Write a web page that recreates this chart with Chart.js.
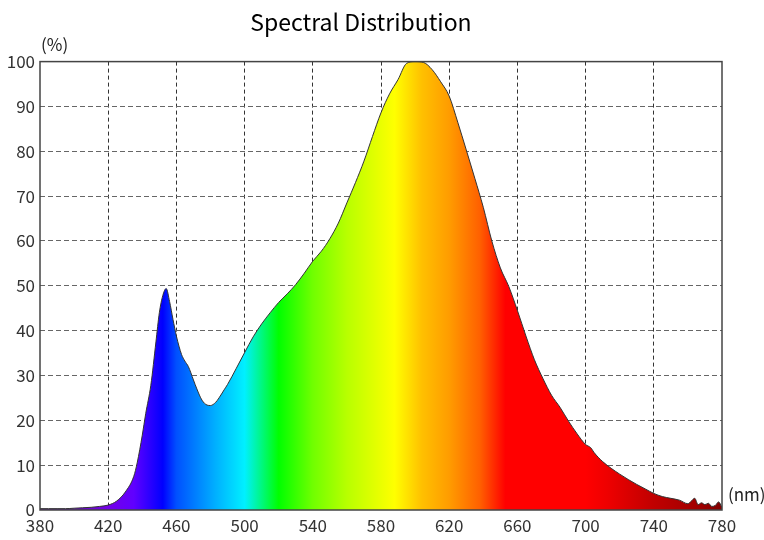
<!DOCTYPE html>
<html lang="en">
<head>
  <meta charset="UTF-8">
  <title>Spectral Distribution</title>
  <script src="https://cdn.jsdelivr.net/npm/chart.js"></script>
  <style>
    body { margin: 0; background: #fff; }
    #wrap { width: 764px; height: 540px; }
  </style>
</head>
<body>
  <div id="wrap"><canvas id="spectrum"></canvas></div>
  <script>
    // wavelength (nm) and relative intensity (%)
    const wavelengths = [380, 385, 390, 395, 400, 405, 410, 415, 420, 425, 430, 435, 437, 440, 442, 445, 448, 450, 452, 454, 456, 458,
      460, 463, 465, 467, 470, 472, 475, 478, 480, 483, 485, 488, 490, 495, 500, 505, 510, 515, 520, 525,
      530, 535, 540, 545, 550, 555, 560, 565, 570, 575, 580, 585, 590, 595, 600, 605, 610, 615, 620, 625,
      630, 635, 640, 645, 650, 655, 660, 665, 670, 675, 680, 685, 690, 695, 700, 703, 705, 710, 715, 720,
      725, 730, 735, 740, 745, 750, 755, 760, 762, 764, 766, 768, 770, 772, 774, 776, 778, 780];
    const intensity = [0.3, 0.3, 0.3, 0.3, 0.4, 0.5, 0.6, 0.8, 1.1, 2.0, 4.0, 7.5, 10.5, 16.7, 21.5, 27.8, 37.5, 44.0, 47.8, 49.4, 46.5, 42.5,
      38.8, 34.7, 33.2, 32.0, 29.0, 27.0, 24.5, 23.4, 23.3, 24.0, 25.0, 26.8, 28.0, 31.5, 35.1, 38.6, 41.5, 44.0, 46.3, 48.2,
      50.3, 52.8, 55.5, 57.7, 60.5, 64.0, 68.5, 73.0, 77.8, 83.3, 88.6, 92.8, 96.0, 99.6, 100, 99.8, 98.2, 95.5, 92.3, 86.5,
      80.3, 74.0, 67.5, 60.0, 54.0, 49.8, 44.5, 38.8, 33.5, 29.3, 25.6, 22.9, 19.8, 17.0, 14.6, 13.9, 12.8, 10.8, 9.3, 8.0,
      6.8, 5.7, 4.7, 3.7, 3.0, 2.6, 2.2, 1.4, 2.0, 2.6, 1.2, 1.6, 1.2, 1.5, 0.8, 1.0, 1.8, 0.6];

    const xTicks = [380, 420, 460, 500, 540, 580, 620, 660, 700, 740, 780];
    const yTicks = [0, 10, 20, 30, 40, 50, 60, 70, 80, 90, 100];

    // spectrum colours along the wavelength axis
    const spectrumStops = [
      [380, '#5a1e8c'], [420, '#7400e8'], [435, '#6000ff'], [452, '#0000ff'], [460, '#0050ff'],
      [483, '#00b0ff'], [500, '#00f0ff'], [520, '#00ff00'], [540, '#70ff00'], [560, '#b8ff00'],
      [588, '#ffff00'], [604, '#ffc000'], [620, '#ff9c00'], [638, '#ff6000'], [653, '#ff0000'],
      [700, '#ff0000'], [713, '#ee0000'], [740, '#c00000'], [767, '#a00000'], [780, '#800000']
    ];

    const FONT = '"Noto Sans CJK KR", "Noto Sans", sans-serif';
    const points = wavelengths.map((w, i) => ({ x: w, y: intensity[i] }));

    function spectrumFill(context) {
      const chart = context.chart;
      if (!chart.chartArea) return '#ccc';
      const xs = chart.scales.x;
      const x0 = xs.getPixelForValue(xTicks[0]);
      const x1 = xs.getPixelForValue(xTicks[xTicks.length - 1]);
      const g = chart.ctx.createLinearGradient(x0, 0, x1, 0);
      spectrumStops.forEach(([nm, c]) => g.addColorStop((nm - 380) / 400, c));
      return g;
    }

    // frame around the plot plus the unit labels
    const framePlugin = {
      id: 'frame',
      afterDraw(chart) {
        const { ctx, chartArea: a } = chart;
        ctx.save();
        ctx.strokeStyle = '#444';
        ctx.lineWidth = 1.5;
        ctx.strokeRect(a.left, a.top, a.right - a.left, a.bottom - a.top);
        ctx.fillStyle = '#222';
        ctx.font = '17px ' + FONT;
        ctx.textBaseline = 'middle';
        ctx.textAlign = 'left';
        ctx.fillText('(%)', a.left + 1, a.top - 17);
        ctx.fillText('(nm)', a.right + 6, a.bottom - 15);
        ctx.restore();
      }
    };

    const edge = v => v === 380 || v === 780 || v === 0 || v === 100;

    new Chart(document.getElementById('spectrum'), {
      type: 'line',
      data: {
        datasets: [{
          data: points,
          borderColor: '#333',
          borderWidth: 1,
          pointRadius: 0,
          cubicInterpolationMode: 'monotone',
          fill: 'origin',
          backgroundColor: spectrumFill
        }]
      },
      options: {
        responsive: true,
        maintainAspectRatio: false,
        animation: false,
        layout: { padding: { top: 0, right: 42, left: 0, bottom: 0 } },
        plugins: {
          legend: { display: false },
          tooltip: { enabled: false },
          title: {
            display: true,
            text: 'Spectral Distribution',
            color: '#000',
            font: { family: FONT, size: 23, weight: 'normal' },
            padding: { top: 8, bottom: 26 }
          }
        },
        scales: {
          x: {
            type: 'linear',
            min: 380,
            max: 780,
            z: 1,
            afterBuildTicks: s => { s.ticks = xTicks.map(v => ({ value: v })); },
            afterFit: s => { s.height = 30; },
            ticks: { color: '#333', padding: 5, font: { family: FONT, size: 17 }, maxRotation: 0 },
            grid: { drawTicks: false, color: c => edge(c.tick.value) ? 'rgba(0,0,0,0)' : '#333', lineWidth: 1 },
            border: { display: false, dash: [4, 3] }
          },
          y: {
            min: 0,
            max: 100,
            z: 1,
            afterBuildTicks: s => { s.ticks = yTicks.map(v => ({ value: v })); },
            afterFit: s => { s.width = 40; },
            ticks: { color: '#333', padding: 5, font: { family: FONT, size: 17 } },
            grid: { drawTicks: false, color: c => edge(c.tick.value) ? 'rgba(0,0,0,0)' : '#666', lineWidth: 1 },
            border: { display: false, dash: [5, 3] }
          }
        }
      },
      plugins: [framePlugin]
    });
  </script>
</body>
</html>
